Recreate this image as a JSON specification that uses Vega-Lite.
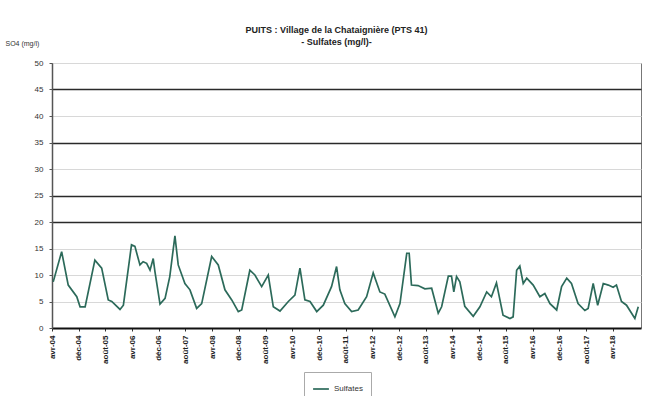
{
  "$schema": "https://vega.github.io/schema/vega-lite/v6.json",
  "autosize": {"type": "none"},
  "width": 589,
  "height": 265,
  "padding": {"left": 52, "top": 63, "right": 18, "bottom": 68},
  "background": "white",
  "title": {
    "text": "PUITS : Village de la Chataignière (PTS 41)",
    "subtitle": "- Sulfates (mg/l)-",
    "anchor": "middle",
    "dx": -10,
    "dy": 22,
    "offset": 14,
    "font": "Liberation Sans",
    "fontSize": 9,
    "fontWeight": "bold",
    "color": "#222",
    "subtitleFont": "Liberation Sans",
    "subtitleFontSize": 9,
    "subtitleFontWeight": "bold",
    "subtitleColor": "#222",
    "subtitlePadding": 3
  },
  "data": {
    "values": [
      {"date": "2004-04-12", "sulfates": 8.7},
      {"date": "2004-06-28", "sulfates": 14.4},
      {"date": "2004-08-27", "sulfates": 8.1},
      {"date": "2004-11-13", "sulfates": 5.9},
      {"date": "2004-12-13", "sulfates": 4.0},
      {"date": "2005-01-28", "sulfates": 4.0},
      {"date": "2005-04-27", "sulfates": 12.8},
      {"date": "2005-06-28", "sulfates": 11.3},
      {"date": "2005-08-27", "sulfates": 5.3},
      {"date": "2005-09-28", "sulfates": 5.0},
      {"date": "2005-12-12", "sulfates": 3.5},
      {"date": "2006-01-12", "sulfates": 4.3},
      {"date": "2006-03-27", "sulfates": 15.7},
      {"date": "2006-04-27", "sulfates": 15.4},
      {"date": "2006-06-12", "sulfates": 11.9},
      {"date": "2006-07-11", "sulfates": 12.5},
      {"date": "2006-08-12", "sulfates": 12.2},
      {"date": "2006-09-12", "sulfates": 10.9},
      {"date": "2006-10-11", "sulfates": 13.1},
      {"date": "2006-10-27", "sulfates": 10.6},
      {"date": "2006-12-12", "sulfates": 4.5},
      {"date": "2007-01-27", "sulfates": 5.6},
      {"date": "2007-03-11", "sulfates": 9.7},
      {"date": "2007-04-27", "sulfates": 17.4},
      {"date": "2007-05-27", "sulfates": 11.9},
      {"date": "2007-07-27", "sulfates": 8.4},
      {"date": "2007-09-11", "sulfates": 7.2},
      {"date": "2007-11-11", "sulfates": 3.7},
      {"date": "2007-12-27", "sulfates": 4.6},
      {"date": "2008-03-27", "sulfates": 13.5},
      {"date": "2008-05-26", "sulfates": 11.9},
      {"date": "2008-07-26", "sulfates": 7.2},
      {"date": "2008-09-26", "sulfates": 5.3},
      {"date": "2008-11-25", "sulfates": 3.1},
      {"date": "2008-12-26", "sulfates": 3.4},
      {"date": "2009-03-10", "sulfates": 10.9},
      {"date": "2009-04-25", "sulfates": 10.0},
      {"date": "2009-06-26", "sulfates": 7.8},
      {"date": "2009-08-25", "sulfates": 10.0},
      {"date": "2009-10-10", "sulfates": 4.0},
      {"date": "2009-12-10", "sulfates": 3.2},
      {"date": "2010-02-24", "sulfates": 5.0},
      {"date": "2010-04-25", "sulfates": 6.2},
      {"date": "2010-06-10", "sulfates": 11.3},
      {"date": "2010-07-25", "sulfates": 5.3},
      {"date": "2010-09-10", "sulfates": 5.0},
      {"date": "2010-11-10", "sulfates": 3.1},
      {"date": "2011-01-09", "sulfates": 4.3},
      {"date": "2011-03-25", "sulfates": 7.8},
      {"date": "2011-05-10", "sulfates": 11.6},
      {"date": "2011-06-09", "sulfates": 7.2},
      {"date": "2011-07-24", "sulfates": 4.6},
      {"date": "2011-09-24", "sulfates": 3.1},
      {"date": "2011-11-23", "sulfates": 3.4},
      {"date": "2012-02-08", "sulfates": 5.9},
      {"date": "2012-04-08", "sulfates": 10.4},
      {"date": "2012-06-08", "sulfates": 6.8},
      {"date": "2012-07-23", "sulfates": 6.4},
      {"date": "2012-10-23", "sulfates": 2.1},
      {"date": "2012-12-08", "sulfates": 4.6},
      {"date": "2013-02-08", "sulfates": 14.1},
      {"date": "2013-03-02", "sulfates": 14.1},
      {"date": "2013-03-23", "sulfates": 8.1},
      {"date": "2013-05-22", "sulfates": 8.0},
      {"date": "2013-07-23", "sulfates": 7.4},
      {"date": "2013-09-23", "sulfates": 7.5},
      {"date": "2013-11-22", "sulfates": 2.8},
      {"date": "2013-12-23", "sulfates": 4.0},
      {"date": "2014-02-22", "sulfates": 9.8},
      {"date": "2014-03-23", "sulfates": 9.8},
      {"date": "2014-04-13", "sulfates": 6.8},
      {"date": "2014-05-08", "sulfates": 9.7},
      {"date": "2014-06-07", "sulfates": 8.7},
      {"date": "2014-07-22", "sulfates": 4.1},
      {"date": "2014-10-07", "sulfates": 2.2},
      {"date": "2014-12-07", "sulfates": 4.0},
      {"date": "2015-02-07", "sulfates": 6.8},
      {"date": "2015-03-22", "sulfates": 5.9},
      {"date": "2015-05-07", "sulfates": 8.5},
      {"date": "2015-07-06", "sulfates": 2.4},
      {"date": "2015-09-07", "sulfates": 1.8},
      {"date": "2015-10-06", "sulfates": 2.1},
      {"date": "2015-11-07", "sulfates": 10.9},
      {"date": "2015-12-06", "sulfates": 11.7},
      {"date": "2016-01-06", "sulfates": 8.4},
      {"date": "2016-02-07", "sulfates": 9.4},
      {"date": "2016-04-06", "sulfates": 8.1},
      {"date": "2016-06-06", "sulfates": 5.9},
      {"date": "2016-07-21", "sulfates": 6.5},
      {"date": "2016-09-06", "sulfates": 4.6},
      {"date": "2016-11-06", "sulfates": 3.4},
      {"date": "2016-12-21", "sulfates": 7.8},
      {"date": "2017-02-06", "sulfates": 9.4},
      {"date": "2017-03-21", "sulfates": 8.4},
      {"date": "2017-05-20", "sulfates": 4.6},
      {"date": "2017-07-21", "sulfates": 3.3},
      {"date": "2017-08-20", "sulfates": 3.7},
      {"date": "2017-10-05", "sulfates": 8.4},
      {"date": "2017-11-15", "sulfates": 4.3},
      {"date": "2018-01-05", "sulfates": 8.4},
      {"date": "2018-02-20", "sulfates": 8.1},
      {"date": "2018-04-05", "sulfates": 7.7},
      {"date": "2018-05-05", "sulfates": 8.1},
      {"date": "2018-06-20", "sulfates": 5.0},
      {"date": "2018-08-05", "sulfates": 4.3},
      {"date": "2018-10-20", "sulfates": 1.8},
      {"date": "2018-11-20", "sulfates": 4.0}
    ]
  },
  "mark": {"type": "line", "strokeWidth": 1.7, "interpolate": "linear"},
  "encoding": {
    "x": {
      "field": "date",
      "type": "temporal",
      "scale": {"domain": [{"year": 2004, "month": 4, "date": 1}, {"year": 2018, "month": 12, "date": 15}]},
      "axis": {
        "title": null,
        "values": [
          {"year": 2004, "month": 4, "date": 1}, {"year": 2004, "month": 12, "date": 1},
          {"year": 2005, "month": 8, "date": 1}, {"year": 2006, "month": 4, "date": 1},
          {"year": 2006, "month": 12, "date": 1}, {"year": 2007, "month": 8, "date": 1},
          {"year": 2008, "month": 4, "date": 1}, {"year": 2008, "month": 12, "date": 1},
          {"year": 2009, "month": 8, "date": 1}, {"year": 2010, "month": 4, "date": 1},
          {"year": 2010, "month": 12, "date": 1}, {"year": 2011, "month": 8, "date": 1},
          {"year": 2012, "month": 4, "date": 1}, {"year": 2012, "month": 12, "date": 1},
          {"year": 2013, "month": 8, "date": 1}, {"year": 2014, "month": 4, "date": 1},
          {"year": 2014, "month": 12, "date": 1}, {"year": 2015, "month": 8, "date": 1},
          {"year": 2016, "month": 4, "date": 1}, {"year": 2016, "month": 12, "date": 1},
          {"year": 2017, "month": 8, "date": 1}, {"year": 2018, "month": 4, "date": 1}
        ],
        "labelExpr": "['janv','févr','mars','avr','mai','juin','juil','août','sept','oct','nov','déc'][month(datum.value)] + '-' + timeFormat(datum.value, '%y')",
        "labelAngle": -90,
        "labelAlign": "right",
        "labelBaseline": "middle",
        "labelFont": "Liberation Sans",
        "labelFontSize": 8,
        "labelFontWeight": "bold",
        "labelColor": "#222",
        "labelPadding": 4,
        "labelFlush": false,
        "labelOverlap": false,
        "grid": false,
        "domainColor": "#111",
        "domainWidth": 2,
        "tickColor": "#333",
        "tickSize": 3
      }
    },
    "y": {
      "field": "sulfates",
      "type": "quantitative",
      "scale": {"domain": [0, 50], "nice": false},
      "axis": {
        "title": "SO4 (mg/l)",
        "titleAngle": 0,
        "titleAlign": "left",
        "titleBaseline": "middle",
        "titleX": -47,
        "titleY": -20,
        "titleFont": "Liberation Sans",
        "titleFontSize": 7,
        "titleFontWeight": "normal",
        "titleColor": "#333",
        "values": [0, 5, 10, 15, 20, 25, 30, 35, 40, 45, 50],
        "labelFont": "Liberation Sans",
        "labelFontSize": 8,
        "labelColor": "#333",
        "labelPadding": 6,
        "domainColor": "#555",
        "domainWidth": 1.5,
        "tickColor": "#555",
        "tickSize": 3,
        "grid": true,
        "gridColor": {
          "condition": {"test": "datum.value == 45 || datum.value == 35 || datum.value == 25 || datum.value == 20", "value": "#2a2a2a"},
          "value": "#d8d8d8"
        },
        "gridWidth": {
          "condition": {"test": "datum.value == 45 || datum.value == 35 || datum.value == 25 || datum.value == 20", "value": 1.5},
          "value": 1
        }
      }
    },
    "color": {
      "datum": "Sulfates",
      "scale": {"range": ["#2c6a5a"]},
      "legend": {
        "title": null,
        "orient": "none",
        "legendX": 252,
        "legendY": 309,
        "direction": "horizontal",
        "symbolType": "stroke",
        "symbolStrokeWidth": 1.7,
        "symbolSize": 250,
        "labelFont": "Liberation Sans",
        "labelFontSize": 8,
        "labelColor": "#333",
        "strokeColor": "#aaa",
        "padding": 8,
        "fillColor": "white"
      }
    }
  },
  "config": {
    "view": {"stroke": "#777", "strokeWidth": 1}
  }
}
